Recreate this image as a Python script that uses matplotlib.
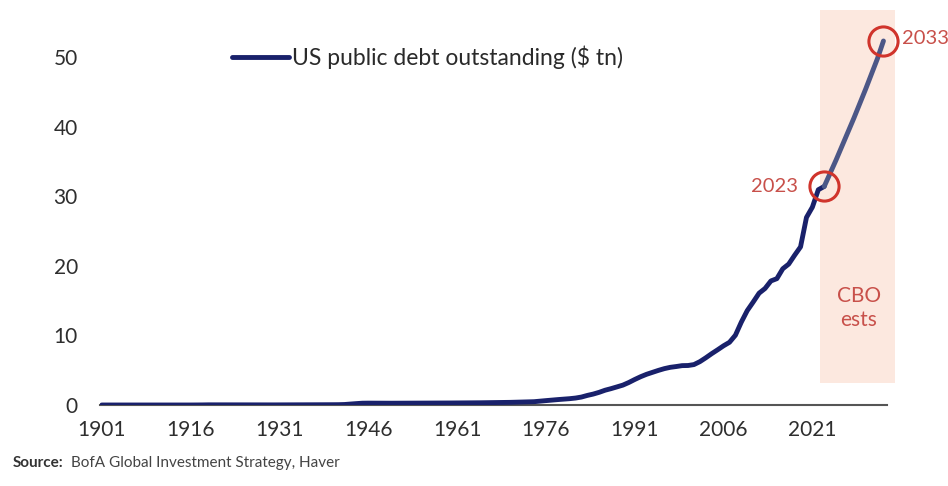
import matplotlib
matplotlib.use('Agg')
import matplotlib.pyplot as plt
from matplotlib.patches import Rectangle

plt.rcParams['font.family'] = ['Lato', 'DejaVu Sans']

# US public debt outstanding, $ tn (actuals to 2023, CBO estimates after)
years = [1901, 1905, 1910, 1916, 1917, 1918, 1919, 1920, 1925, 1930, 1935,
         1940, 1941, 1942, 1943, 1944, 1945, 1946, 1950, 1955, 1960, 1965,
         1970, 1972, 1974, 1976, 1978, 1980, 1981, 1982, 1983, 1984, 1985,
         1986, 1987, 1988, 1989, 1990, 1991, 1992, 1993, 1994, 1995, 1996,
         1997, 1998, 1999, 2000, 2001, 2002, 2003, 2004, 2005, 2006, 2007,
         2008, 2009, 2010, 2011, 2012, 2013, 2014, 2015, 2016, 2017, 2018,
         2019, 2020, 2021, 2022, 2023, 2024, 2025, 2026, 2027, 2028, 2029,
         2030, 2031, 2032, 2033]
debt = [0.001, 0.001, 0.001, 0.001, 0.006, 0.012, 0.025, 0.024, 0.021, 0.016, 0.029,
        0.043, 0.049, 0.072, 0.137, 0.201, 0.259, 0.269, 0.257, 0.274, 0.291, 0.322,
        0.381, 0.427, 0.475, 0.629, 0.777, 0.908, 0.998, 1.142, 1.377, 1.572, 1.823,
        2.125, 2.350, 2.602, 2.857, 3.233, 3.665, 4.065, 4.411, 4.693, 4.974, 5.225,
        5.413, 5.526, 5.656, 5.674, 5.807, 6.228, 6.783, 7.379, 7.933, 8.507, 9.008,
        10.025, 11.910, 13.562, 14.790, 16.066, 16.738, 17.824, 18.151, 19.573, 20.245, 21.516,
        22.719, 26.945, 28.428, 30.928, 31.4, 33.3, 35.2, 37.2, 39.2, 41.2, 43.3,
        45.4, 47.6, 49.8, 52.3]

xtick_years = [1901, 1916, 1931, 1946, 1961, 1976, 1991, 2006, 2021]
yticks = [0, 10, 20, 30, 40, 50]
marked = [2023, 2033]
est_start = 2023

navy = '#19216b'
est_col = '#4c5787'
red = '#d0342c'
txt_red = '#c8504a'
grey = '#2e2e2e'

fig = plt.figure(figsize=(9.48, 4.86), dpi=100)
ax = fig.add_axes([100/948, 1 - 405/486, 787/948, 403.7/486])

i0 = years.index(est_start)
ax.plot(years[:i0 + 1], debt[:i0 + 1], color=navy, lw=3.5, solid_capstyle='round',
        label='US public debt outstanding ($ tn)', zorder=3)
ax.plot(years[i0:], debt[i0:], color=est_col, lw=3.5, solid_capstyle='round', zorder=3)

# CBO estimate band
ax.add_patch(Rectangle((2022.3, 3.2), 12.7, 53.6, facecolor='#fce8df',
                       edgecolor='none', clip_on=False, zorder=1))
ax.text(2028.8, 14, 'CBO\nests', color=txt_red, fontsize=15,
        ha='center', va='center', linespacing=1.25, zorder=5)

for yr in marked:
    v = debt[years.index(yr)]
    ax.plot([yr], [v], marker='o', ms=21, mfc='none', mec=red, mew=2.2,
            zorder=4, clip_on=False)
ax.text(2018.6, debt[years.index(2023)], '2023', color=txt_red, fontsize=14.5,
        ha='right', va='center')
ax.text(2036.2, debt[years.index(2033)] + 0.3, '2033', color=txt_red, fontsize=14.5,
        ha='left', va='center')

ax.set_xlim(1900.7, 2033.6)
ax.set_ylim(0, 58)
ax.set_xticks(xtick_years)
ax.set_xticklabels([str(y) for y in xtick_years])
ax.set_yticks(yticks)
ax.tick_params(axis='both', length=0, labelsize=15, labelcolor=grey)
ax.tick_params(axis='y', pad=16)
ax.tick_params(axis='x', pad=11)
for s in ['top', 'right', 'left']:
    ax.spines[s].set_visible(False)
ax.spines['bottom'].set_color('#555555')
ax.spines['bottom'].set_linewidth(1.5)
ax.spines['bottom'].set_zorder(2)

ax.legend(loc='center left', bbox_to_anchor=(232/948, 1 - 57/486),
          bbox_transform=fig.transFigure, frameon=False, fontsize=16.5,
          handlelength=2.5, handletextpad=0.1, borderpad=0, borderaxespad=0,
          labelcolor='#2a2a2a')

fig.text(13/948, 1 - 463/486, 'Source:', fontsize=11, fontweight='bold',
         color='#333333', va='center')
fig.text(71/948, 1 - 463/486, 'BofA Global Investment Strategy, Haver',
         fontsize=11, color='#444444', va='center')

fig.savefig('out.png', dpi=100)
